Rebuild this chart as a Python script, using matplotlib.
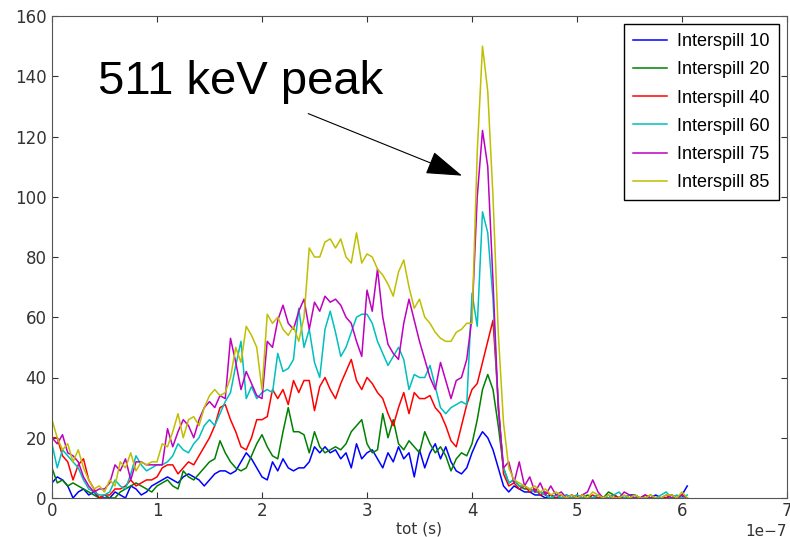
import numpy as np
import matplotlib
matplotlib.use('Agg')
import matplotlib.pyplot as plt

# tot bins in units of 1e-7 s (step 0.05)
tot = np.round(np.arange(0, 6.06, 0.05), 2)

interspill_10 = [
    5, 7, 6, 4, 0, 2, 3, 1, 2, 0, 0, 0, 2, 1, 0, 4, 3, 1, 2, 4,
    5, 6, 7, 6, 5, 7, 8, 7, 6, 4, 6, 8, 9, 9, 8, 9, 12, 15, 13, 10,
    7, 6, 12, 9, 13, 10, 9, 10, 10, 12, 17, 15, 17, 15, 16, 13, 15, 10, 18, 13,
    15, 16, 13, 10, 15, 12, 17, 13, 15, 7, 16, 10, 15, 18, 13, 17, 12, 9, 8, 10,
    15, 19, 22, 20, 16, 10, 4, 2, 4, 3, 2, 2, 1, 1, 0, 1, 0, 0, 1, 0,
    0, 1, 0, 0, 1, 0, 0, 1, 0, 0, 1, 1, 0, 0, 0, 1, 0, 0, 1, 0,
    1, 4]
interspill_20 = [
    10, 5, 6, 4, 5, 4, 3, 2, 1, 0, 1, 0, 0, 2, 3, 4, 5, 4, 3, 2,
    4, 5, 6, 4, 3, 9, 7, 6, 8, 10, 12, 13, 19, 15, 12, 10, 9, 10, 14, 18,
    21, 17, 14, 13, 22, 30, 22, 22, 21, 15, 22, 17, 15, 16, 17, 16, 18, 22, 24, 26,
    18, 15, 16, 28, 20, 26, 18, 16, 19, 17, 15, 22, 18, 15, 17, 14, 9, 13, 15, 14,
    18, 26, 36, 41, 36, 24, 10, 5, 6, 4, 3, 3, 2, 2, 1, 0, 1, 0, 0, 1,
    0, 0, 1, 0, 0, 0, 2, 1, 0, 0, 0, 1, 0, 0, 1, 0, 0, 0, 1, 0,
    1, 0]
interspill_40 = [
    20, 20, 14, 12, 6, 11, 13, 6, 3, 0, 1, 1, 3, 3, 4, 6, 4, 5, 6, 6,
    7, 10, 11, 11, 8, 10, 12, 11, 14, 17, 20, 24, 30, 31, 26, 22, 17, 16, 20, 26,
    26, 27, 36, 33, 36, 31, 39, 35, 39, 39, 29, 37, 40, 36, 33, 38, 42, 46, 39, 36,
    40, 38, 35, 33, 28, 24, 30, 35, 28, 35, 33, 33, 34, 30, 28, 24, 19, 17, 24, 31,
    36, 38, 45, 52, 59, 32, 8, 4, 5, 3, 4, 2, 3, 1, 2, 1, 0, 1, 0, 0,
    1, 0, 0, 1, 0, 0, 0, 1, 0, 0, 1, 0, 0, 1, 0, 0, 0, 0, 1, 0,
    1, 0]
interspill_60 = [
    18, 10, 16, 14, 12, 10, 6, 3, 2, 1, 1, 2, 6, 4, 3, 8, 14, 11, 9, 10,
    11, 11, 12, 14, 18, 16, 15, 18, 20, 24, 26, 24, 28, 32, 35, 44, 52, 33, 37, 33,
    35, 36, 35, 48, 42, 43, 46, 63, 50, 56, 45, 40, 56, 62, 55, 47, 50, 55, 60, 61,
    61, 58, 52, 48, 44, 47, 50, 46, 36, 41, 40, 40, 44, 37, 30, 28, 30, 31, 32, 31,
    68, 57, 95, 88, 66, 30, 10, 5, 6, 4, 4, 3, 2, 2, 1, 0, 1, 0, 1, 0,
    1, 0, 0, 0, 1, 0, 0, 1, 2, 0, 1, 0, 0, 0, 0, 0, 1, 2, 0, 1,
    0, 1]
interspill_75 = [
    20, 18, 21, 15, 14, 12, 7, 4, 2, 3, 3, 5, 11, 9, 13, 6, 12, 12, 11, 11,
    11, 11, 23, 17, 22, 26, 24, 20, 26, 30, 32, 30, 34, 33, 53, 45, 36, 42, 38, 34,
    33, 52, 50, 59, 64, 58, 56, 62, 66, 56, 65, 62, 67, 65, 66, 64, 60, 58, 52, 47,
    69, 62, 76, 60, 51, 48, 46, 58, 66, 59, 52, 46, 40, 36, 45, 39, 33, 39, 40, 46,
    60, 100, 122, 110, 72, 30, 10, 12, 5, 12, 4, 7, 2, 5, 1, 4, 1, 2, 0, 1,
    0, 1, 2, 6, 2, 0, 1, 0, 0, 2, 1, 0, 0, 1, 0, 0, 0, 1, 0, 0,
    1, 0]
interspill_85 = [
    26, 20, 16, 18, 12, 16, 10, 6, 3, 4, 2, 6, 4, 12, 10, 15, 9, 12, 11, 12,
    12, 18, 17, 22, 28, 20, 26, 27, 24, 30, 34, 36, 34, 35, 40, 50, 45, 57, 54, 50,
    36, 61, 58, 60, 56, 54, 57, 52, 60, 83, 80, 80, 85, 86, 83, 86, 80, 78, 88, 78,
    81, 80, 76, 74, 71, 67, 75, 79, 70, 63, 66, 60, 58, 55, 53, 52, 52, 55, 56, 58,
    58, 115, 150, 135, 100, 55, 25, 10, 6, 5, 4, 3, 4, 2, 3, 1, 2, 1, 0, 1,
    0, 1, 0, 2, 1, 0, 1, 0, 0, 1, 0, 1, 0, 0, 1, 0, 0, 1, 1, 0,
    2, 0]

series = [
    ('Interspill 10', interspill_10, (0, 0, 1)),
    ('Interspill 20', interspill_20, (0, 0.5, 0)),
    ('Interspill 40', interspill_40, (1, 0, 0)),
    ('Interspill 60', interspill_60, (0, 0.75, 0.75)),
    ('Interspill 75', interspill_75, (0.75, 0, 0.75)),
    ('Interspill 85', interspill_85, (0.75, 0.75, 0)),
]

fig = plt.figure(figsize=(7.9, 5.37), dpi=100)
ax = fig.add_axes([52 / 790, 39 / 537, 735 / 790, 482 / 537])

x = tot * 1e-7
for label, vals, col in series:
    ax.plot(x, vals, color=col, lw=1.1, label=label)

ax.set_xlim(0, 7e-7)
ax.set_ylim(0, 160)
ax.set_xticks(np.arange(0, 8) * 1e-7)
ax.set_yticks(np.arange(0, 161, 20))
ax.tick_params(direction='in', top=True, right=True, length=4.5,
               labelsize=12, colors='#333333', pad=4)
ax.tick_params(axis='x', pad=3)
for sp in ax.spines.values():
    sp.set_color('#555555')
ax.xaxis.get_offset_text().set_fontsize(11)
ax.xaxis.get_offset_text().set_color('#333333')
ax.set_xlabel('tot (s)', fontsize=11, color='#333333', labelpad=1)

leg = ax.legend(loc='upper right', prop={'family': 'Liberation Sans', 'size': 13},
                fancybox=False, framealpha=1, edgecolor='black',
                handlelength=1.9, handletextpad=0.55, borderpad=0.5,
                labelspacing=0.62, borderaxespad=0.45)
leg.get_frame().set_linewidth(1.0)

ax.annotate('', xy=(3.905e-7, 107), xytext=(2.44e-7, 127.6),
            arrowprops=dict(arrowstyle='-|>,head_length=2.3,head_width=0.75',
                            mutation_scale=10, color='black', lw=0.8,
                            shrinkA=0, shrinkB=0))
ax.text(0.438e-7, 134, '511 keV peak', fontsize=34, family='Liberation Sans',
        va='baseline', ha='left')

fig.savefig('out.png', dpi=100)
